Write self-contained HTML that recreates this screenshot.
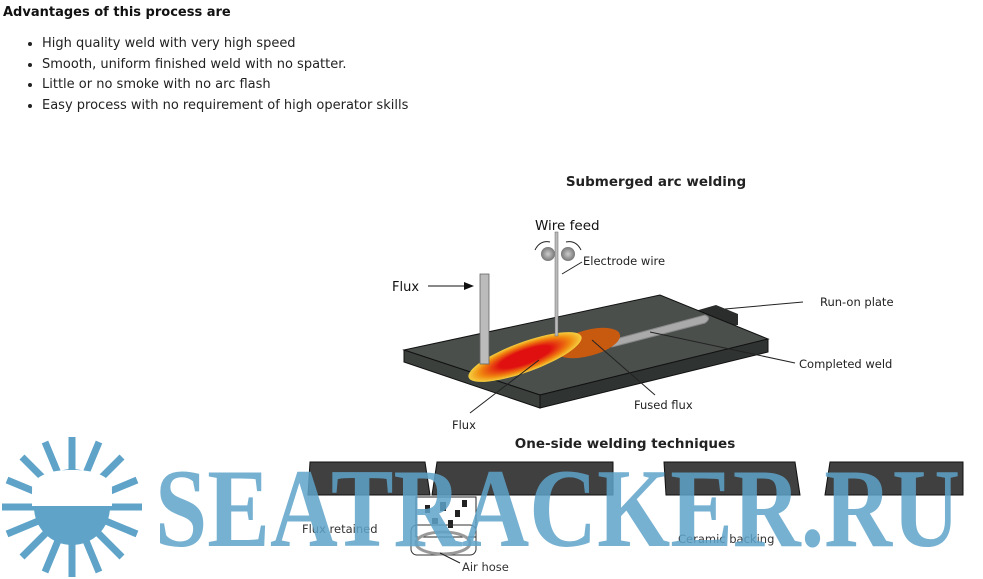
<!DOCTYPE html>
<html><head><meta charset="utf-8"><style>
body{margin:0;width:983px;height:579px;background:#fff;overflow:hidden;font-family:"DejaVu Sans",sans-serif;position:relative}
h4{position:absolute;left:3px;top:5px;margin:0;font-size:13px;font-weight:bold;color:#111}
ul{position:absolute;left:22px;top:34px;margin:0;padding-left:20px;font-size:13px;color:#222;line-height:20.5px}
svg{position:absolute;left:0;top:0}
</style></head><body>
<h4>Advantages of this process are</h4>
<ul>
<li>High quality weld with very high speed</li>
<li>Smooth, uniform finished weld with no spatter.</li>
<li>Little or no smoke with no arc flash</li>
<li>Easy process with no requirement of high operator skills</li>
</ul>
<svg width="983" height="579" viewBox="0 0 983 579" font-family="DejaVu Sans, sans-serif">
<defs>
<radialGradient id="g1" cx="0.5" cy="0.5" r="0.5"><stop offset="0.45" stop-color="#e01010"/><stop offset="0.8" stop-color="#f08a10"/><stop offset="1" stop-color="#f5d040"/></radialGradient>
<radialGradient id="ball"><stop offset="0" stop-color="#ccc"/><stop offset="1" stop-color="#777"/></radialGradient>
</defs>
<text x="656" y="186" font-size="13.5" font-weight="bold" text-anchor="middle" fill="#222">Submerged arc welding</text>
<polygon points="688,313 716,305 738,314 738,325 710,329" fill="#2a2d2b"/>
<polygon points="404,350 660,295 768,339 540,395" fill="#4a4f4c" stroke="#111" stroke-width="1"/>
<polygon points="404,350 540,395 540,408 404,362" fill="#3b403d" stroke="#111"/>
<polygon points="540,395 768,339 768,352 540,408" fill="#2f3331" stroke="#111"/>
<path d="M612,340 L705,315 Q712,318 705,323 L612,347Z" fill="#aaa" stroke="#888"/>
<ellipse cx="588" cy="343" rx="33" ry="13" transform="rotate(-15 588 343)" fill="#c85a10"/>
<ellipse cx="525" cy="357" rx="60" ry="15" transform="rotate(-20 525 357)" fill="url(#g1)"/>
<rect x="480" y="274" width="9" height="90" fill="#bbb" stroke="#666" stroke-width="0.8"/>
<rect x="555" y="232" width="3" height="104" fill="#bbb" stroke="#666" stroke-width="0.5"/>
<circle cx="548" cy="254" r="7" fill="url(#ball)"/><circle cx="568" cy="254" r="7" fill="url(#ball)"/>
<path d="M535,250 Q540,240 550,242 M581,250 Q576,240 566,242" fill="none" stroke="#222"/>
<text x="535" y="230" font-size="13.5" fill="#111">Wire feed</text>
<text x="583" y="265" font-size="11.5" fill="#222">Electrode wire</text>
<line x1="562" y1="274" x2="582" y2="262" stroke="#222"/>
<text x="392" y="291" font-size="13" fill="#111">Flux</text>
<line x1="428" y1="286" x2="466" y2="286" stroke="#111"/><polygon points="474,286 464,282 464,290" fill="#111"/>
<text x="820" y="306" font-size="11.5" fill="#222">Run-on plate</text>
<line x1="725" y1="309" x2="803" y2="302" stroke="#222"/>
<text x="799" y="368" font-size="11.5" fill="#222">Completed weld</text>
<line x1="650" y1="332" x2="795" y2="363" stroke="#222"/>
<text x="634" y="409" font-size="11.5" fill="#222">Fused flux</text>
<line x1="592" y1="340" x2="655" y2="395" stroke="#222"/>
<text x="452" y="429" font-size="11.5" fill="#222">Flux</text>
<line x1="539" y1="360" x2="470" y2="413" stroke="#222"/>
<text x="625" y="448" font-size="13.5" font-weight="bold" text-anchor="middle" fill="#222">One-side welding techniques</text>
<polygon points="310,462 425,462 430,495 308,495" fill="#404040" stroke="#111"/>
<polygon points="437,462 613,462 613,495 432,495" fill="#404040" stroke="#111"/>
<polygon points="664,462 795,462 800,495 666,495" fill="#404040" stroke="#111"/>
<polygon points="830,462 963,462 963,495 825,495" fill="#404040" stroke="#111"/>
<rect x="416" y="497" width="60" height="40" fill="#fff" stroke="#222"/>
<g fill="#222"><rect x="425" y="505" width="5" height="8"/><rect x="440" y="502" width="6" height="9"/><rect x="455" y="510" width="5" height="7"/><rect x="432" y="518" width="6" height="6"/><rect x="448" y="520" width="5" height="8"/><rect x="462" y="500" width="5" height="7"/></g>
<rect x="411" y="525" width="65" height="30" rx="6" fill="none" stroke="#333"/>
<ellipse cx="443" cy="543" rx="27" ry="11" fill="none" stroke="#999" stroke-width="3"/>
<text x="302" y="533" font-size="11.5" fill="#333">Flux retained</text>
<text x="678" y="543" font-size="11.5" fill="#333">Ceramic backing</text>
<text x="462" y="571" font-size="11.5" fill="#333">Air hose</text>
<line x1="440" y1="553" x2="460" y2="563" stroke="#222"/>
<g fill="#5fa3c9">
<circle cx="72" cy="507" r="38"/>
<g stroke="#5fa3c9" stroke-width="7">
<path d="M72,437V577M2,507H142M22,457L122,557M122,457L22,557M45,442L99,572M99,442L45,572M7,480L137,534M137,480L7,534"/>
</g>
<rect x="32" y="470" width="80" height="36" fill="#fff" rx="36" ry="36"/>
<rect x="32" y="490" width="80" height="16" fill="#fff"/>
</g>
<text x="155" y="546" font-family="Liberation Serif, serif" font-weight="bold" font-size="112" fill="#5fa3c9" fill-opacity="0.85" textLength="805" lengthAdjust="spacingAndGlyphs">SEATRACKER.RU</text>
</svg>
</body></html>
